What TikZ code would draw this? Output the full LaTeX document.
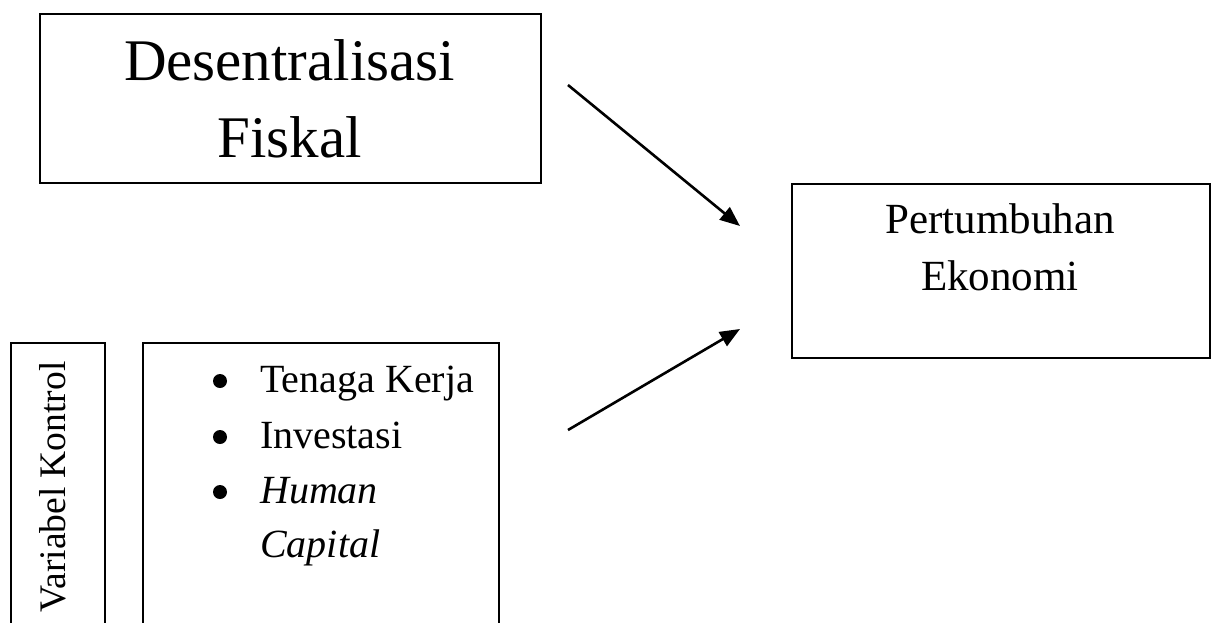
\documentclass[tikz,border=0pt]{standalone}
\usepackage{fontspec}
\setmainfont{Liberation Serif}
\usetikzlibrary{arrows.meta}
\tikzset{
  box/.style={draw=black, line width=1.8pt, inner sep=0pt, anchor=north west},
  lbl/.style={anchor=base, inner sep=0pt},
  item/.style={anchor=base west, inner sep=0pt, font=\fontsize{40}{48}\selectfont},
  conn/.style={line width=2.6pt, -{Triangle[length=20pt,width=16pt]}},
}
\begin{document}
\begin{tikzpicture}[x=1pt,y=-1pt]
\useasboundingbox (0,0) rectangle (1211,622);
\clip (0,0) rectangle (1211,622);
% boxes
\node[box, minimum width=501pt, minimum height=169pt] (dbox) at (39,13) {};
\node[box, minimum width=418pt, minimum height=174pt] (pbox) at (791,183) {};
\node[box, minimum width=94pt, minimum height=300pt] (vbox) at (10,342) {};
\node[box, minimum width=356pt, minimum height=300pt] (lbox) at (142,342) {};
% texts
\node[lbl, font=\fontsize{59}{72}\selectfont] (d1) at (289.5,80) {Desentralisasi};
\node[lbl, font=\fontsize{59}{72}\selectfont] (d2) at (289.5,157) {Fiskal};
\node[lbl, font=\fontsize{43}{52}\selectfont] (p1) at (1000,233) {Pertumbuhan};
\node[lbl, font=\fontsize{43}{52}\selectfont] (p2) at (1000,290) {Ekonomi};
\node[lbl, rotate=90, font=\fontsize{37.5}{45}\selectfont] (v1) at (65,487) {Variabel Kontrol};
\node[item] (l1) at (260,392) {Tenaga Kerja};
\node[item] (l2) at (260,448) {Investasi};
\node[item, font=\fontsize{40}{48}\selectfont\itshape] (l3) at (260,503) {Human};
\node[item, font=\fontsize{40}{48}\selectfont\itshape] (l4) at (260,557) {Capital};
\fill (220,381) circle (7pt) coordinate (b1);
\fill (220,437) circle (7pt) coordinate (b2);
\fill (220,492) circle (7pt) coordinate (b3);
% arrows
\coordinate (a1s) at (568,85);
\coordinate (a1e) at (740,226);
\coordinate (a2s) at (568,430);
\coordinate (a2e) at (740,329);
\draw[conn] (a1s) -- (a1e);
\draw[conn] (a2s) -- (a2e);
\end{tikzpicture}
\end{document}
